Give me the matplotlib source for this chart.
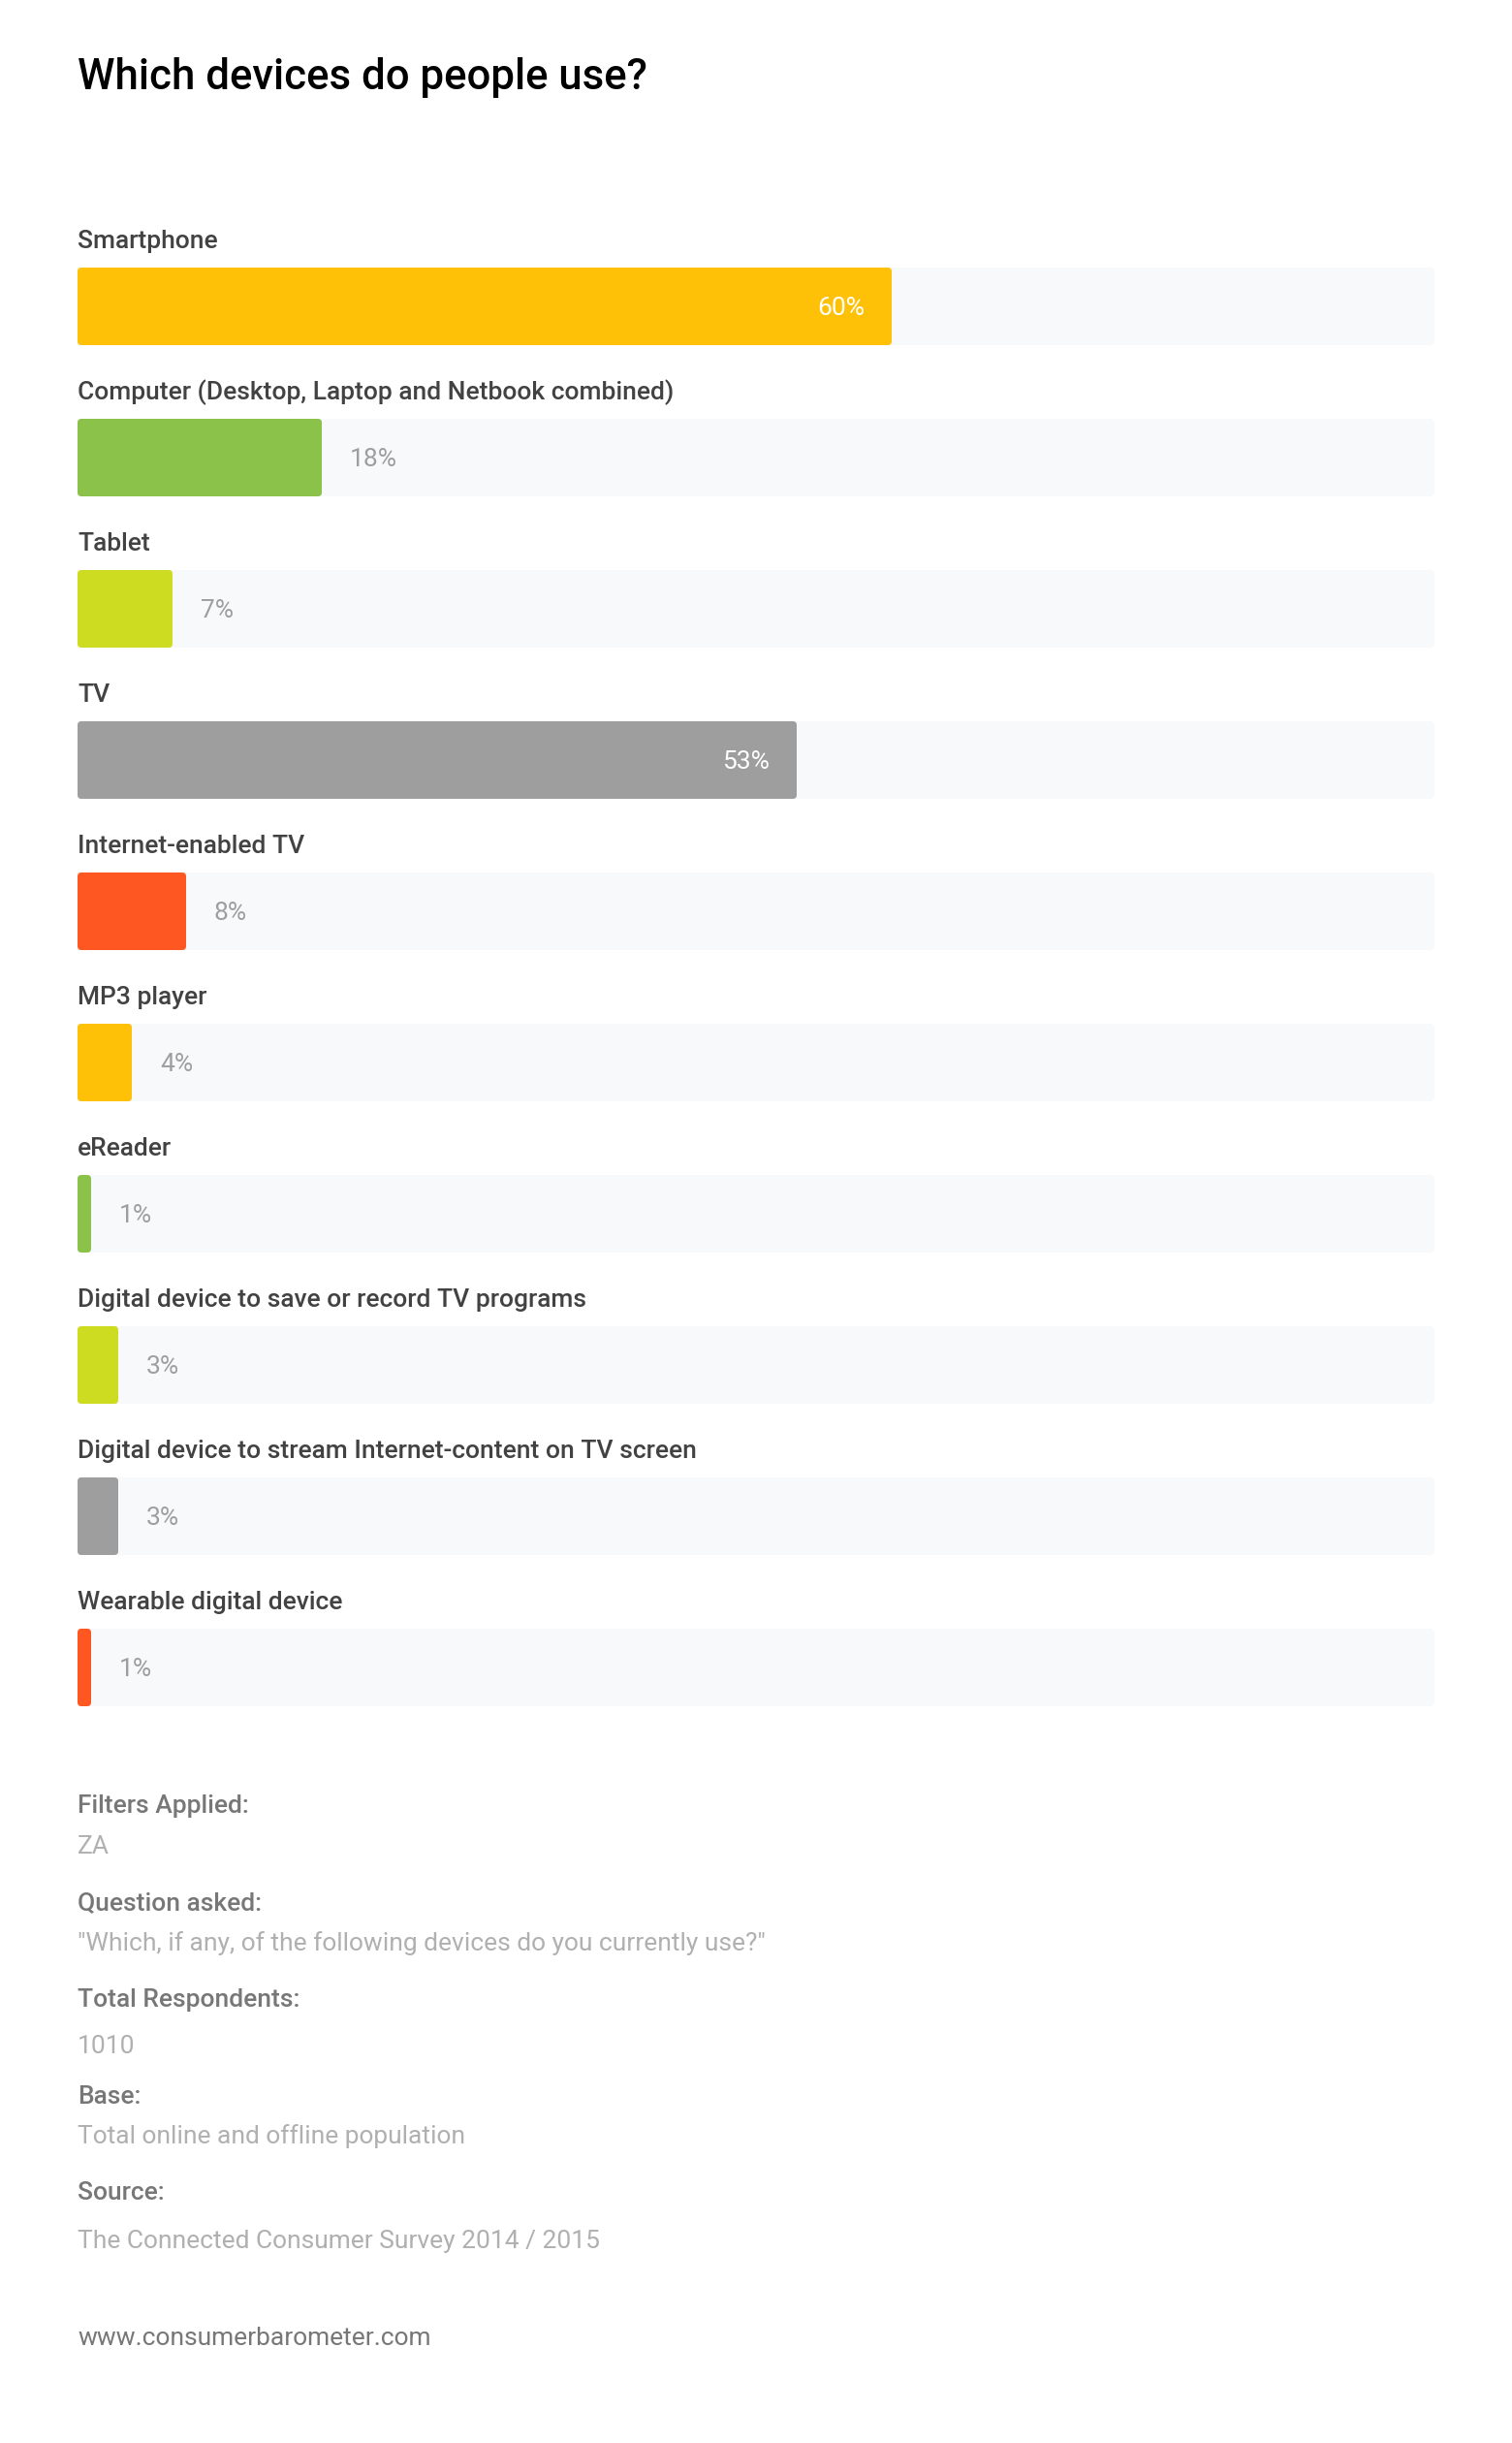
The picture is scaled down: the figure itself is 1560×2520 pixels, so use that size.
import matplotlib
matplotlib.use('Agg')
import matplotlib.pyplot as plt
from matplotlib.patches import FancyBboxPatch

plt.rcParams['font.family'] = ['Roboto', 'DejaVu Sans']

# data
devices = [
    'Smartphone',
    'Computer (Desktop, Laptop and Netbook combined)',
    'Tablet',
    'TV',
    'Internet-enabled TV',
    'MP3 player',
    'eReader',
    'Digital device to save or record TV programs',
    'Digital device to stream Internet-content on TV screen',
    'Wearable digital device',
]
shares = [60, 18, 7, 53, 8, 4, 1, 3, 3, 1]

footer_keys = ['Filters Applied:', 'Question asked:', 'Total Respondents:', 'Base:', 'Source:']
footer_vals = ['ZA', '"Which, if any, of the following devices do you currently use?"', '1010',
               'Total online and offline population', 'The Connected Consumer Survey 2014 / 2015']

palette = ['#FFC107', '#8BC34A', '#CDDC21', '#9E9E9E', '#FF5722']
colors = [palette[i % len(palette)] for i in range(len(devices))]

W, H = 1560, 2520
DPI = 100
PX = 72 / DPI  # points per pixel
FS = 19

fig = plt.figure(figsize=(W / DPI, H / DPI), dpi=DPI, facecolor='white')

# axes in pixel terms: bars start at y=276, pitch 156 px, height 80 px
left, right = 80, 1480
pitch, bar_px = 156, 80
top = 276 - (pitch - bar_px) / 2
n = len(devices)
ax = fig.add_axes([left / W, 1 - (top + pitch * n) / H, (right - left) / W, pitch * n / H])
ax.set_xlim(0, 100)
ax.set_ylim(n - 0.5, -0.5)
ax.axis('off')

bh = bar_px / pitch
ypos = list(range(n))
aspect = ((right - left) / 100) / pitch
rad = 4 / ((right - left) / 100)


def round_bars(bars):
    for p in bars:
        fb = FancyBboxPatch((p.get_x(), p.get_y()), p.get_width(), p.get_height(),
                            boxstyle=f'round,pad=0,rounding_size={rad}',
                            mutation_aspect=aspect, facecolor=p.get_facecolor(),
                            edgecolor='none', zorder=p.get_zorder())
        ax.add_patch(fb)
        p.remove()


tracks = ax.barh(ypos, [100] * n, height=bh, color='#F8F9FA', zorder=1)
round_bars(tracks)
bars = ax.barh(ypos, shares, height=bh, color=colors, zorder=2)
round_bars(bars)

for i, (name, v) in enumerate(zip(devices, shares)):
    # category label above the bar
    ax.annotate(name, xy=(0, i - bh / 2), xytext=(0, 20 * PX), textcoords='offset points',
                ha='left', va='baseline', fontsize=FS, fontweight='medium', color='#424242')
    # value label
    if v >= 30:
        ax.annotate(f'{v}%', xy=(v, i), xytext=(-28 * PX, -9 * PX), textcoords='offset points',
                    ha='right', va='baseline', fontsize=FS, color='white', zorder=3)
    else:
        ax.annotate(f'{v}%', xy=(v, i), xytext=(29 * PX, -9 * PX), textcoords='offset points',
                    ha='left', va='baseline', fontsize=FS, color='#9E9E9E', zorder=3)

# title
fig.text(left / W, 1 - 92 / H, 'Which devices do people use?', ha='left', va='baseline',
         fontsize=31.5, fontweight='medium', color='#000000')

# footer
key_base = [1870, 1970, 2070, 2170, 2269]
val_base = [1912, 2012, 2118, 2211, 2319]
for k, v, kb, vb in zip(footer_keys, footer_vals, key_base, val_base):
    fig.text(left / W, 1 - kb / H, k, ha='left', va='baseline', fontsize=FS,
             fontweight='medium', color='#777777')
    fig.text(left / W, 1 - vb / H, v, ha='left', va='baseline', fontsize=FS, color='#B0B0B0')

fig.text(left / W, 1 - 2419 / H, 'www.consumerbarometer.com', ha='left', va='baseline',
         fontsize=FS, color='#777777')

fig.savefig('out.png', dpi=DPI, facecolor='white')
